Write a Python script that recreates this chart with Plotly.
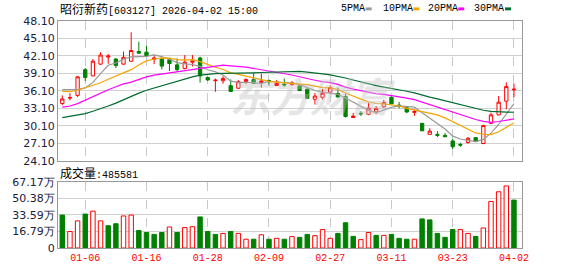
import plotly.graph_objects as go

# ---------------- data ----------------
dates = ["12-30", "12-31", "01-05", "01-06", "01-07", "01-08", "01-09", "01-12", "01-13", "01-14",
         "01-15", "01-16", "01-19", "01-20", "01-21", "01-22", "01-23", "01-26", "01-27", "01-28",
         "01-29", "01-30", "02-02", "02-03", "02-04", "02-05", "02-06", "02-09", "02-10", "02-11",
         "02-12", "02-13", "02-24", "02-25", "02-26", "02-27", "03-02", "03-03", "03-04", "03-05",
         "03-06", "03-09", "03-10", "03-11", "03-12", "03-13", "03-16", "03-17", "03-18", "03-19",
         "03-20", "03-23", "03-24", "03-25", "03-26", "03-27", "03-30", "03-31", "04-01", "04-02"]

opens = [33.93, 34.85, 35.32, 39.74, 38.67, 40.69, 41.90, 41.58, 40.69, 41.19,
         42.86, 42.75, 41.52, 41.58, 41.47, 40.57, 39.96, 41.02, 41.75, 38.40,
         37.85, 37.84, 36.99, 36.55, 37.67, 38.06, 37.56, 37.89, 37.00, 37.22,
         37.17, 36.94, 36.38, 34.65, 34.99, 35.88, 35.66, 35.10, 31.52, 32.25,
         32.08, 32.47, 33.37, 34.99, 33.65, 33.20, 32.40, 30.52, 28.62, 28.62,
         28.45, 27.50, 26.89, 27.22, 28.06, 27.05, 30.52, 31.97, 34.32, 36.27]
highs = [35.32, 35.71, 38.62, 40.02, 41.58, 42.75, 42.42, 41.69, 42.86, 46.16,
         44.54, 43.81, 42.25, 41.80, 41.75, 41.69, 42.25, 42.25, 41.97, 38.50,
         38.23, 38.62, 38.06, 37.95, 38.23, 39.18, 39.07, 38.00, 37.95, 38.23,
         37.78, 37.28, 36.55, 35.71, 36.38, 37.05, 36.66, 35.55, 32.31, 32.59,
         34.04, 33.48, 34.54, 35.15, 34.20, 33.30, 32.92, 30.57, 29.68, 29.18,
         28.84, 27.89, 27.17, 28.17, 28.17, 30.30, 32.36, 35.21, 37.56, 37.33]
lows = [33.65, 34.48, 35.04, 37.78, 38.60, 40.60, 40.74, 40.02, 40.60, 41.10,
        42.47, 42.03, 40.69, 39.79, 39.51, 39.46, 39.79, 40.30, 37.50, 37.80,
        35.94, 37.33, 35.90, 36.44, 37.28, 37.30, 36.66, 37.00, 36.94, 36.83,
        37.00, 36.10, 34.76, 33.76, 34.60, 35.71, 34.99, 31.52, 31.50, 31.80,
        31.91, 32.08, 33.20, 33.80, 33.09, 32.25, 31.80, 29.20, 28.60, 28.17,
        28.12, 26.10, 26.50, 27.05, 27.28, 26.94, 30.40, 31.90, 32.92, 34.99]
closes = [34.71, 34.95, 38.51, 38.40, 41.19, 42.25, 42.08, 40.46, 41.86, 43.03,
          42.58, 42.14, 41.75, 40.35, 40.80, 39.74, 41.02, 41.25, 38.67, 37.98,
          37.93, 38.23, 35.99, 37.67, 38.06, 37.39, 37.78, 37.67, 37.39, 37.11,
          37.50, 36.16, 34.82, 35.21, 35.71, 36.66, 35.04, 31.69, 31.75, 32.14,
          33.14, 33.09, 34.09, 33.87, 33.48, 32.47, 32.55, 29.23, 29.18, 28.45,
          28.23, 26.50, 26.78, 27.95, 27.39, 30.13, 31.97, 34.15, 36.83, 36.38]

# volume, unit: 万
volumes = [33.4, 16.7, 27.5, 34.4, 37.4, 27.5, 22.6, 24.6, 32.5, 33.4,
           17.7, 15.7, 13.8, 15.7, 21.3, 15.7, 20.7, 21.6, 31.5, 16.7,
           13.8, 14.8, 16.7, 14.8, 8.9, 8.9, 13.4, 8.9, 9.8, 8.9,
           11.5, 10.8, 13.8, 12.5, 18.7, 9.8, 14.8, 25.6, 11.8, 8.5,
           15.7, 12.8, 12.8, 13.8, 9.8, 8.9, 8.9, 29.5, 28.5, 14.8,
           10.8, 18.7, 18.7, 14.8, 11.8, 20.3, 47.2, 57.0, 62.9, 48.5581]
# day direction (1 = up day, 0 = down day)
vol_up = [0, 1, 1, 0, 1, 1, 0, 0, 1, 1,
          0, 0, 0, 0, 1, 0, 1, 1, 0, 0,
          0, 1, 0, 1, 1, 0, 1, 0, 1, 0,
          1, 0, 0, 1, 1, 1, 0, 0, 0, 1,
          1, 0, 1, 0, 0, 0, 1, 0, 0, 0,
          0, 0, 1, 1, 0, 1, 1, 1, 1, 0]

ma5 = [36.30, 36.30, 36.35, 36.60, 37.55, 39.06, 40.49, 40.88, 41.57, 41.94,
       42.00, 42.01, 42.27, 41.97, 41.52, 40.96, 40.73, 40.63, 40.30, 39.73,
       39.37, 38.81, 37.76, 37.56, 37.58, 37.47, 37.38, 37.71, 37.66, 37.47,
       37.49, 37.17, 36.60, 36.16, 35.88, 35.71, 35.49, 34.86, 34.17, 33.46,
       32.75, 32.36, 32.84, 33.27, 33.53, 33.40, 33.29, 32.32, 31.38, 30.38,
       29.53, 28.32, 27.83, 27.58, 27.37, 27.75, 28.84, 30.32, 32.09, 33.89]
ma10 = [36.00, 35.95, 36.20, 36.60, 37.00, 37.50, 38.10, 38.60, 39.10, 39.74,
        40.53, 41.25, 41.57, 41.77, 41.73, 41.48, 41.37, 41.45, 41.13, 40.63,
        40.16, 39.77, 39.20, 38.93, 38.65, 38.42, 38.10, 37.74, 37.61, 37.52,
        37.48, 37.27, 37.16, 36.91, 36.67, 36.60, 36.33, 35.73, 35.17, 34.67,
        34.23, 33.93, 33.85, 33.72, 33.50, 33.08, 32.83, 32.58, 32.32, 31.96,
        31.46, 30.81, 30.07, 29.48, 28.87, 28.64, 28.58, 29.07, 29.78, 30.58]
ma20 = [33.30, 33.50, 33.90, 34.50, 35.20, 35.80, 36.30, 36.80, 37.30, 37.60,
        38.10, 38.50, 38.80, 39.00, 39.20, 39.40, 39.60, 39.80, 39.95, 40.19,
        40.35, 40.51, 40.39, 40.35, 40.19, 39.95, 39.73, 39.59, 39.37, 39.08,
        38.82, 38.52, 38.18, 37.92, 37.66, 37.51, 37.21, 36.73, 36.39, 36.10,
        35.86, 35.60, 35.50, 35.31, 35.08, 34.84, 34.58, 34.16, 33.74, 33.31,
        32.85, 32.37, 31.96, 31.60, 31.18, 30.86, 30.70, 30.83, 31.08, 31.29]
ma30 = [31.50, 31.70, 31.90, 32.20, 32.60, 33.00, 33.50, 34.00, 34.60, 35.20,
        35.70, 36.20, 36.60, 37.00, 37.40, 37.80, 38.20, 38.50, 38.80, 38.95,
        39.05, 39.10, 39.10, 39.10, 39.15, 39.20, 39.25, 39.30, 39.30, 39.30,
        39.39, 39.43, 39.31, 39.20, 39.02, 38.83, 38.60, 38.31, 37.97, 37.61,
        37.29, 36.99, 36.73, 36.52, 36.27, 36.03, 35.75, 35.35, 35.03, 34.72,
        34.39, 34.00, 33.69, 33.37, 33.01, 32.77, 32.58, 32.46, 32.44, 32.42]

price_ticks = [24.10, 27.10, 30.10, 33.10, 36.10, 39.10, 42.10, 45.10, 48.10]
price_ticktext = ["24.10", "27.10", "30.10", "33.10", "36.10", "39.10", "42.10", "45.10", "48.10"]
vol_ticks = [0, 16.79, 33.59, 50.38, 67.17]
vol_ticktext = ["0", "16.79万", "33.59万", "50.38万", "67.17万"]
date_ticks = ["01-06", "01-16", "01-28", "02-09", "02-27", "03-11", "03-23", "04-02"]

stock_name = "昭衍新药"
stock_code = "603127"
stamp = "2026-04-02 15:00"
last_volume = "485581"
ma_names = ["5PMA", "10PMA", "20PMA", "30PMA"]

# ---------------- style / layout ----------------
W, H = 578, 276
ML, MR, MT, MB = 56, 56, 21, 21
PW, PH = W - ML - MR, H - MT - MB

def px(x):
    return (x - ML) / PW

def py(y):
    return (H - MB - y) / PH

RED = "#ff0000"
GREEN = "#008000"
MA_COLORS = ["#999999", "#f5a300", "#ff00ff", "#006b2e"]
FRAME = "#999999"
GRID = "#d0d0d0"
TICKCOL = "#20203a"
MONO = "Liberation Mono, DejaVu Sans Mono, monospace"
CJK = "Noto Sans CJK SC"

fig = go.Figure()

fig.add_trace(go.Candlestick(
    x=dates, open=opens, high=highs, low=lows, close=closes,
    increasing=dict(line=dict(color=RED, width=1), fillcolor="#ffffff"),
    decreasing=dict(line=dict(color=GREEN, width=1), fillcolor=GREEN),
    whiskerwidth=0, showlegend=False, hoverinfo="skip",
    xaxis="x", yaxis="y"))

for name, vals, col in zip(ma_names, [ma5, ma10, ma20, ma30], MA_COLORS):
    fig.add_trace(go.Scatter(x=dates, y=vals, mode="lines", name=name,
                             line=dict(color=col, width=1.2),
                             showlegend=False, hoverinfo="skip",
                             xaxis="x", yaxis="y"))

fig.add_trace(go.Bar(
    x=dates, y=volumes, width=0.58,
    marker=dict(color=["#ffffff" if u else GREEN for u in vol_up],
                line=dict(color=[RED if u else GREEN for u in vol_up], width=1)),
    showlegend=False, hoverinfo="skip", xaxis="x2", yaxis="y2"))

xcommon = dict(type="category", categoryorder="array", categoryarray=dates,
               range=[-0.56, len(dates) + 0.05], tickvals=date_ticks,
               showgrid=True, gridcolor="#c8c8c8", griddash="dash", gridwidth=1,
               showline=True, mirror=True, linecolor=FRAME, linewidth=1,
               ticks="", zeroline=False, fixedrange=True)

fig.update_layout(
    width=W, height=H,
    margin=dict(l=ML, r=MR, t=MT, b=MB, pad=0),
    paper_bgcolor="#ffffff", plot_bgcolor="#ffffff",
    boxgap=0.38,
    xaxis=dict(domain=[0, 1], anchor="y", showticklabels=False,
               rangeslider=dict(visible=False), **xcommon),
    yaxis=dict(domain=[py(165), 1], range=[24.10, 48.10],
               tickvals=price_ticks, ticktext=price_ticktext,
               showgrid=True, gridcolor=GRID, gridwidth=1,
               showline=True, mirror=True, linecolor=FRAME, linewidth=1,
               ticks="", zeroline=False,
               tickfont=dict(family="DejaVu Sans", size=11, color=TICKCOL)),
    xaxis2=dict(domain=[0, 1], anchor="y2", matches="x", showticklabels=True,
                tickfont=dict(family=MONO, size=10, color=RED), **xcommon),
    yaxis2=dict(domain=[0, py(186.7)], range=[0, 67.17],
                tickvals=vol_ticks, ticktext=vol_ticktext,
                showgrid=True, gridcolor=GRID, gridwidth=1,
                showline=True, mirror=True, linecolor=FRAME, linewidth=1,
                ticks="", zeroline=False,
                tickfont=dict(family="DejaVu Sans", size=11, color=TICKCOL)),
)

annotations = []
# watermark
annotations.append(dict(text="<b><i>东方财富</i></b>", xref="paper", yref="paper",
                        x=px(312), y=py(97), xanchor="center", yanchor="middle",
                        showarrow=False, opacity=0.4,
                        font=dict(family=CJK, size=40, color="#c0c0c0")))
# title
annotations.append(dict(
    text=f'<span style="font-family:{CJK};font-size:12px">{stock_name}</span>[{stock_code}] {stamp}',
    xref="paper", yref="paper", x=px(56), y=py(8.5), xanchor="left", yanchor="middle",
    showarrow=False, font=dict(family=MONO, size=10, color="#000000")))
# volume title
annotations.append(dict(
    text=f'<span style="font-family:{CJK};font-size:12px">成交量</span>:{last_volume}',
    xref="paper", yref="paper", x=px(56), y=py(177.5), xanchor="left", yanchor="middle",
    showarrow=False, font=dict(family=MONO, size=10, color="#000000")))

shapes = []
legend_text_x = [338, 380, 426, 472]
legend_sq_x = [365, 413, 458, 505]
for name, tx, sx, col in zip(ma_names, legend_text_x, legend_sq_x, MA_COLORS):
    annotations.append(dict(text=name, xref="paper", yref="paper", x=px(tx), y=py(8.5),
                            xanchor="left", yanchor="middle", showarrow=False,
                            font=dict(family=MONO, size=10, color="#000000")))
    shapes.append(dict(type="rect", xref="paper", yref="paper",
                       x0=px(sx), x1=px(sx + 6), y0=py(10), y1=py(7),
                       fillcolor=col, line=dict(width=0)))

fig.update_layout(annotations=annotations, shapes=shapes)

fig.write_html("out.html", config=dict(displayModeBar=False, staticPlot=True))
